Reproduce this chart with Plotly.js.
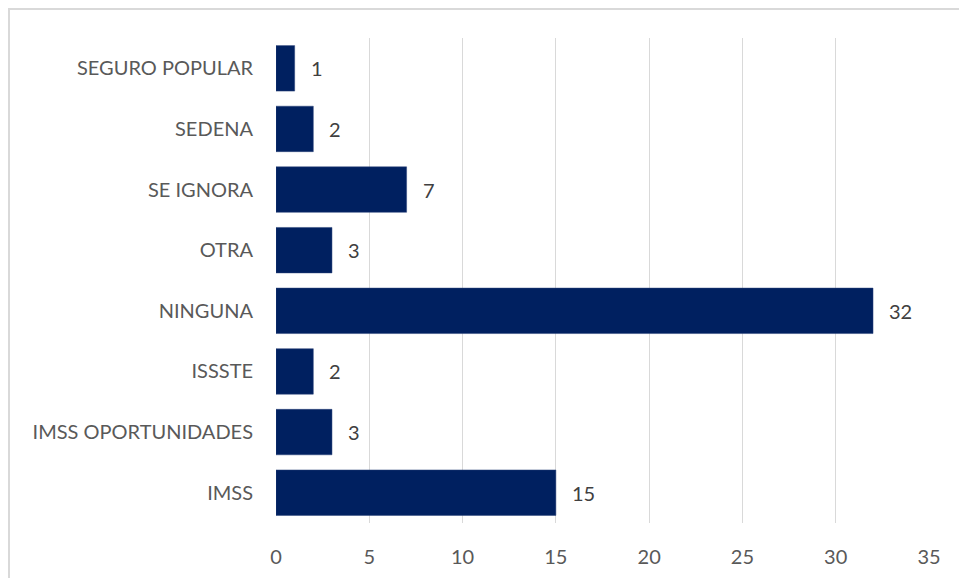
<!DOCTYPE html>
<html><head><meta charset="utf-8">
<script src="https://cdn.plot.ly/plotly-3.0.1.min.js"></script>
<style>html,body{margin:0;padding:0;background:#fff;}#wrap{position:relative;width:959px;height:578px;}
#frame{position:absolute;left:8px;top:8px;width:960px;height:580px;border-left:2px solid #d9d9d9;border-top:2px solid #d9d9d9;pointer-events:none;}
#chart{position:absolute;left:0;top:0;width:959px;height:578px;}</style>
</head><body><div id="wrap"><div id="chart"></div><div id="frame"></div></div>
<script>
const categories = ["IMSS","IMSS OPORTUNIDADES","ISSSTE","NINGUNA","OTRA","SE IGNORA","SEDENA","SEGURO POPULAR"];
const values = [15,3,2,32,3,7,2,1];
const xTicks = [0,5,10,15,20,25,30,35];

const fontFam = "Lato, 'Open Sans', sans-serif";
const trace = {
  type:'bar', orientation:'h', x: values, y: categories,
  marker:{color:'#002060', line:{color:'#2a4278', width:0.5}},
  width:0.75, hoverinfo:'none', cliponaxis:false
};
const annotations = values.map((v,i)=>({x:v, y:categories[i], xref:'x', yref:'y', text:String(v), showarrow:false, xanchor:'left', xshift:14, font:{family:fontFam, size:20, color:'#404040'}}));
const layout = {
  width:959, height:578,
  margin:{l:276, r:30, t:38, b:55},
  paper_bgcolor:'#fff', plot_bgcolor:'#fff',
  showlegend:false,
  bargap:0.25,
  font:{family:fontFam, size:20, color:'#595959'},
  xaxis:{range:[0,35], tickvals:xTicks, ticktext:xTicks.map(String), showgrid:true, gridcolor:'#d9d9d9', gridwidth:1, zeroline:false, showline:false, ticks:'', ticklabelstandoff:20, fixedrange:true},
  yaxis:{categoryorder:'array', categoryarray:categories, showgrid:false, zeroline:false, showline:false, ticks:'', ticklabelstandoff:22, fixedrange:true},
  annotations: annotations
};
Plotly.newPlot('chart',[trace],layout,{staticPlot:true, displayModeBar:false});
</script></body></html>
